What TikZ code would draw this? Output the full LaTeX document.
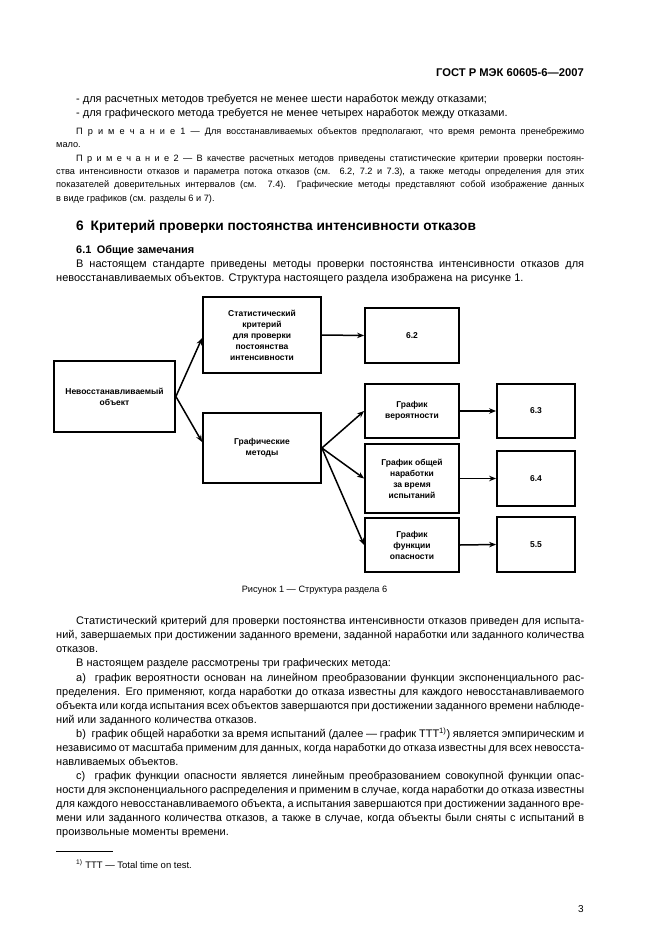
\documentclass[tikz,border=0pt]{standalone}
\usepackage{fontspec}
\setmainfont{Liberation Sans}
\usetikzlibrary{arrows.meta}
\newcommand\bodyf{\fontsize{11}{14}\selectfont}
\newcommand\notef{\fontsize{9.2}{13}\selectfont}
\newcommand\boxf{\bfseries\fontsize{8.5}{11}\selectfont}
\newcommand\JF[1]{\makebox[528pt][s]{#1}}
\newcommand\JI[1]{\makebox[508pt][s]{#1}}
\tikzset{
  txt/.style={anchor=base west, inner sep=0pt, font=\bodyf},
  ntxt/.style={anchor=base west, inner sep=0pt, font=\notef},
  blk/.style={draw, line width=1.8pt, inner sep=1pt, align=center, font=\boxf},
  arr/.style={line width=1.5pt, -{Stealth[length=7pt,width=5.5pt]}},
}
\begin{document}
\begin{tikzpicture}[x=1pt,y=-1pt]
\useasboundingbox (0,0) rectangle (661,936);
\fill[white] (0,0) rectangle (661,936);
% header
\node[anchor=base east, inner sep=0pt, font=\bfseries\fontsize{11.2}{13}\selectfont] (hdr) at (584,77) {ГОСТ Р МЭК 60605-6—2007};
\node[txt] (l1) at (76,103) {- для расчетных методов требуется не менее шести наработок между отказами;};
\node[txt] (l2) at (76,117) {- для графического метода требуется не менее четырех наработок между отказами.};
\node[ntxt] (n1a) at (76,135) {\JI{П р и м е ч а н и е 1 — Для восстанавливаемых объектов предполагают, что время ремонта пренебрежимо}};
\node[ntxt] (n1b) at (56,148) {мало.};
\node[ntxt] (n2a) at (76,162) {\JI{П р и м е ч а н и е 2 — В качестве расчетных методов приведены статистические критерии проверки постоян-}};
\node[ntxt] (n2b) at (56,175) {\JF{ства интенсивности отказов и параметра потока отказов (см. 6.2, 7.2 и 7.3), а также методы определения для этих}};
\node[ntxt] (n2c) at (56,188) {\JF{показателей доверительных интервалов (см. 7.4). Графические методы представляют собой изображение данных}};
\node[ntxt] (n2d) at (56,201) {в виде графиков (см. разделы 6 и 7).};
\node[anchor=base west, inner sep=0pt, font=\bfseries\fontsize{13.7}{15}\selectfont] (h6) at (76,230) {6\enspace Критерий проверки постоянства интенсивности отказов};
\node[anchor=base west, inner sep=0pt, font=\bfseries\fontsize{10.9}{14}\selectfont] (h61) at (76,253) {6.1\enspace Общие замечания};
\node[txt] (p1a) at (76,267) {\JI{В настоящем стандарте приведены методы проверки постоянства интенсивности отказов для}};
\node[txt] (p1b) at (56,281) {невосстанавливаемых объектов. Структура настоящего раздела изображена на рисунке 1.};
% diagram
\node[blk, minimum width=121pt, minimum height=71pt] (A) at (114.5,396.5) {Невосстанавливаемый\\объект};
\node[blk, minimum width=118pt, minimum height=76pt] (B) at (262,335) {Статистический\\критерий\\для проверки\\постоянства\\интенсивности};
\node[blk, minimum width=118pt, minimum height=70pt] (C) at (262,448) {Графические\\методы};
\node[blk, minimum width=94pt, minimum height=55pt] (D) at (412,335.5) {6.2};
\node[blk, minimum width=94pt, minimum height=54pt] (P) at (412,411) {График\\вероятности};
\node[blk, minimum width=94pt, minimum height=69pt] (T) at (412,478.5) {График общей\\наработки\\за время\\испытаний};
\node[blk, minimum width=94pt, minimum height=54pt] (H) at (412,545) {График\\функции\\опасности};
\node[blk, minimum width=78pt, minimum height=54pt] (S3) at (536,411) {6.3};
\node[blk, minimum width=78pt, minimum height=55pt] (S4) at (536,478.5) {6.4};
\node[blk, minimum width=78pt, minimum height=55pt] (S5) at (536,544.5) {5.5};
\draw[arr] (A.east) -- ([yshift=-3pt]B.west);
\draw[arr] (A.east) -- ([yshift=6pt]C.west);
\draw[arr] (B.east) -- (D.west);
\draw[arr] (C.east) -- (P.west);
\draw[arr] (C.east) -- (T.west);
\draw[arr] (C.east) -- (H.west);
\draw[arr] (P.east) -- (S3.west);
\draw[arr] (T.east) -- (S4.west);
\draw[arr] (H.east) -- (S5.west);
\node[anchor=base, inner sep=0pt, font=\fontsize{9.2}{10}\selectfont] (cap) at (314.5,592) {Рисунок 1 — Структура раздела 6};
% text after
\node[txt] (q1a) at (76,624) {\JI{Статистический критерий для проверки постоянства интенсивности отказов приведен для испыта-}};
\node[txt] (q1b) at (56,638) {\JF{ний, завершаемых при достижении заданного времени, заданной наработки или заданного количества}};
\node[txt] (q1c) at (56,652) {отказов.};
\node[txt] (q2) at (76,666) {В настоящем разделе рассмотрены три графических метода:};
\node[txt] (qa1) at (76,681) {\JI{а)\ \ график вероятности основан на линейном преобразовании функции экспоненциального рас-}};
\node[txt] (qa2) at (56,695) {\JF{пределения. Его применяют, когда наработки до отказа известны для каждого невосстанавливаемого}};
\node[txt] (qa3) at (56,709) {\JF{объекта или когда испытания всех объектов завершаются при достижении заданного времени наблюде-}};
\node[txt] (qa4) at (56,723) {ний или заданного количества отказов.};
\node[txt] (qb1) at (76,737) {\JI{b)\ \ график общей наработки за время испытаний (далее — график ТТТ\textsuperscript{1)}) является эмпирическим и}};
\node[txt] (qb2) at (56,751) {\JF{независимо от масштаба применим для данных, когда наработки до отказа известны для всех невосста-}};
\node[txt] (qb3) at (56,765) {навливаемых объектов.};
\node[txt] (qc1) at (76,779) {\JI{с)\ \ график функции опасности является линейным преобразованием совокупной функции опас-}};
\node[txt] (qc2) at (56,793) {\JF{ности для экспоненциального распределения и применим в случае, когда наработки до отказа известны}};
\node[txt] (qc3) at (56,807) {\JF{для каждого невосстанавливаемого объекта, а испытания завершаются при достижении заданного вре-}};
\node[txt] (qc4) at (56,821) {\JF{мени или заданного количества отказов, а также в случае, когда объекты были сняты с испытаний в}};
\node[txt] (qc5) at (56,835) {произвольные моменты времени.};
\coordinate (fr1) at (56,851);
\coordinate (fr2) at (113,851);
\draw[line width=0.7pt] (fr1) -- (fr2);
\node[anchor=base west, inner sep=0pt, font=\fontsize{9.5}{10}\selectfont] (fn) at (76,868) {\textsuperscript{1)} TTT — Total time on test.};
\node[anchor=base east, inner sep=0pt, font=\fontsize{10}{12}\selectfont] (pg) at (584,912) {3};
\end{tikzpicture}
\end{document}
